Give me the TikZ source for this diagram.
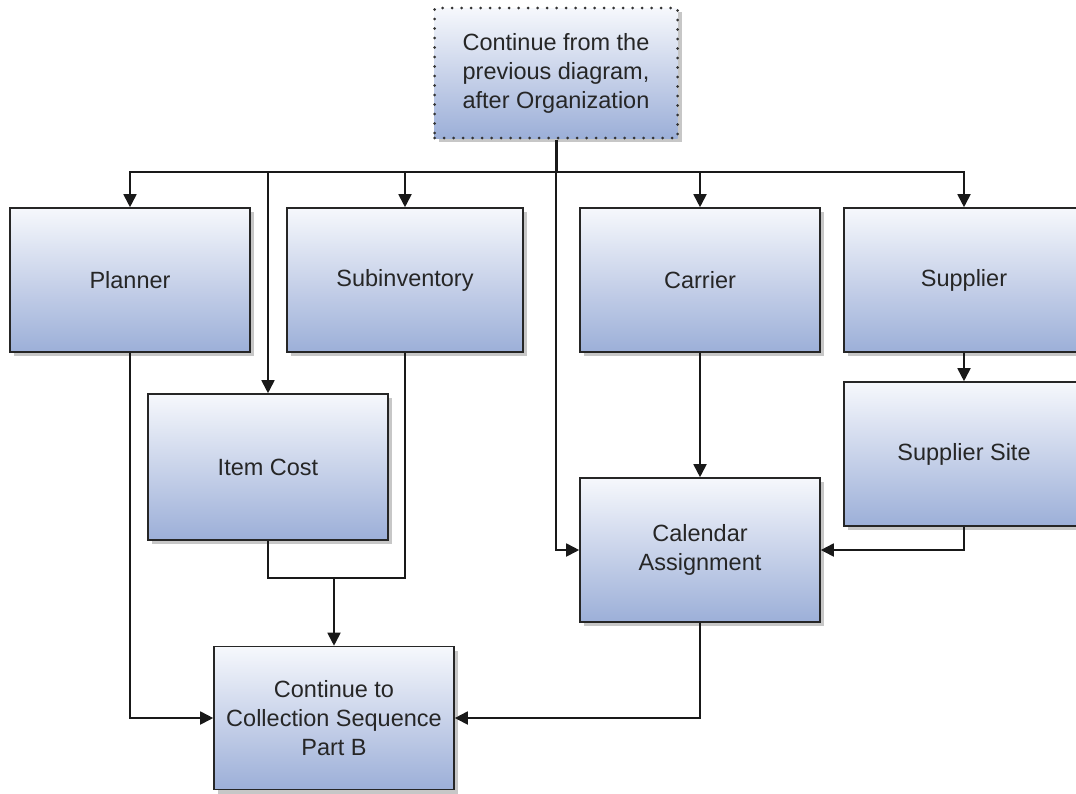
\documentclass[tikz,border=0pt]{standalone}
\usepackage{fontspec}
\setmainfont{Liberation Sans}
\usetikzlibrary{arrows.meta,shadows}
\definecolor{boxtop}{HTML}{F6F8FC}
\definecolor{boxmid}{HTML}{C9D3EA}
\definecolor{boxbot}{HTML}{9CAFD8}
\definecolor{txt}{HTML}{262626}
\tikzset{
  box/.style={draw=black!85, line width=1.6pt, top color=boxtop, bottom color=boxbot, middle color=boxmid,
    minimum width=240pt, minimum height=144pt, align=center, text=txt,
    font=\fontsize{23.5}{29}\selectfont, inner sep=4pt,
    drop shadow={shadow xshift=4pt, shadow yshift=-4pt, fill=black, opacity=0.22}},
  startbox/.style={box, draw=black!80, line width=3pt, dash pattern=on 0pt off 9.5pt, line cap=round,
    minimum width=243pt, minimum height=130pt},
  conn/.style={line width=1.8pt, draw=black!90},
  arr/.style={conn, -{Triangle[length=13pt,width=13pt]}},
}
\begin{document}
\begin{tikzpicture}[x=1pt,y=-1pt]
\useasboundingbox (0,0) rectangle (1076,793);
\node[startbox] (start) at (556,73) {Continue from the\\previous diagram,\\after Organization};
\node[box] (planner) at (130,280) {Planner};
\node[box, minimum width=236pt] (subinv) at (405,280) {Subinventory};
\node[box] (carrier) at (700,280) {Carrier};
\node[box] (supplier) at (964,280) {Supplier};
\node[box, minimum height=146pt] (itemcost) at (268,467) {Item Cost};
\node[box] (suppsite) at (964,454) {Supplier Site};
\node[box] (calendar) at (700,550) {Calendar\\Assignment};
\node[box, minimum height=143pt] (cont) at (334,718) {Continue to\\Collection Sequence\\Part B};
\coordinate (bus) at (556,172);
\coordinate (merge) at (334,578);
\draw[conn, line width=3pt] (start.south) -- (bus);
\draw[arr] (bus) -| (planner.north);
\draw[arr] (bus) -| (itemcost.north);
\draw[arr] (bus) -| (subinv.north);
\draw[arr] (bus) |- (calendar.west);
\draw[arr] (bus) -| (carrier.north);
\draw[arr] (bus) -| (supplier.north);
\draw[arr] (supplier.south) -- (suppsite.north);
\draw[arr] (carrier.south) -- (calendar.north);
\draw[arr] (suppsite.south) |- (calendar.east);
\draw[conn] (itemcost.south) |- (merge);
\draw[conn] (subinv.south) |- (merge);
\draw[arr] (merge) -- (cont.north);
\draw[arr] (planner.south) |- (cont.west);
\draw[arr] (calendar.south) |- (cont.east);
\end{tikzpicture}
\end{document}
